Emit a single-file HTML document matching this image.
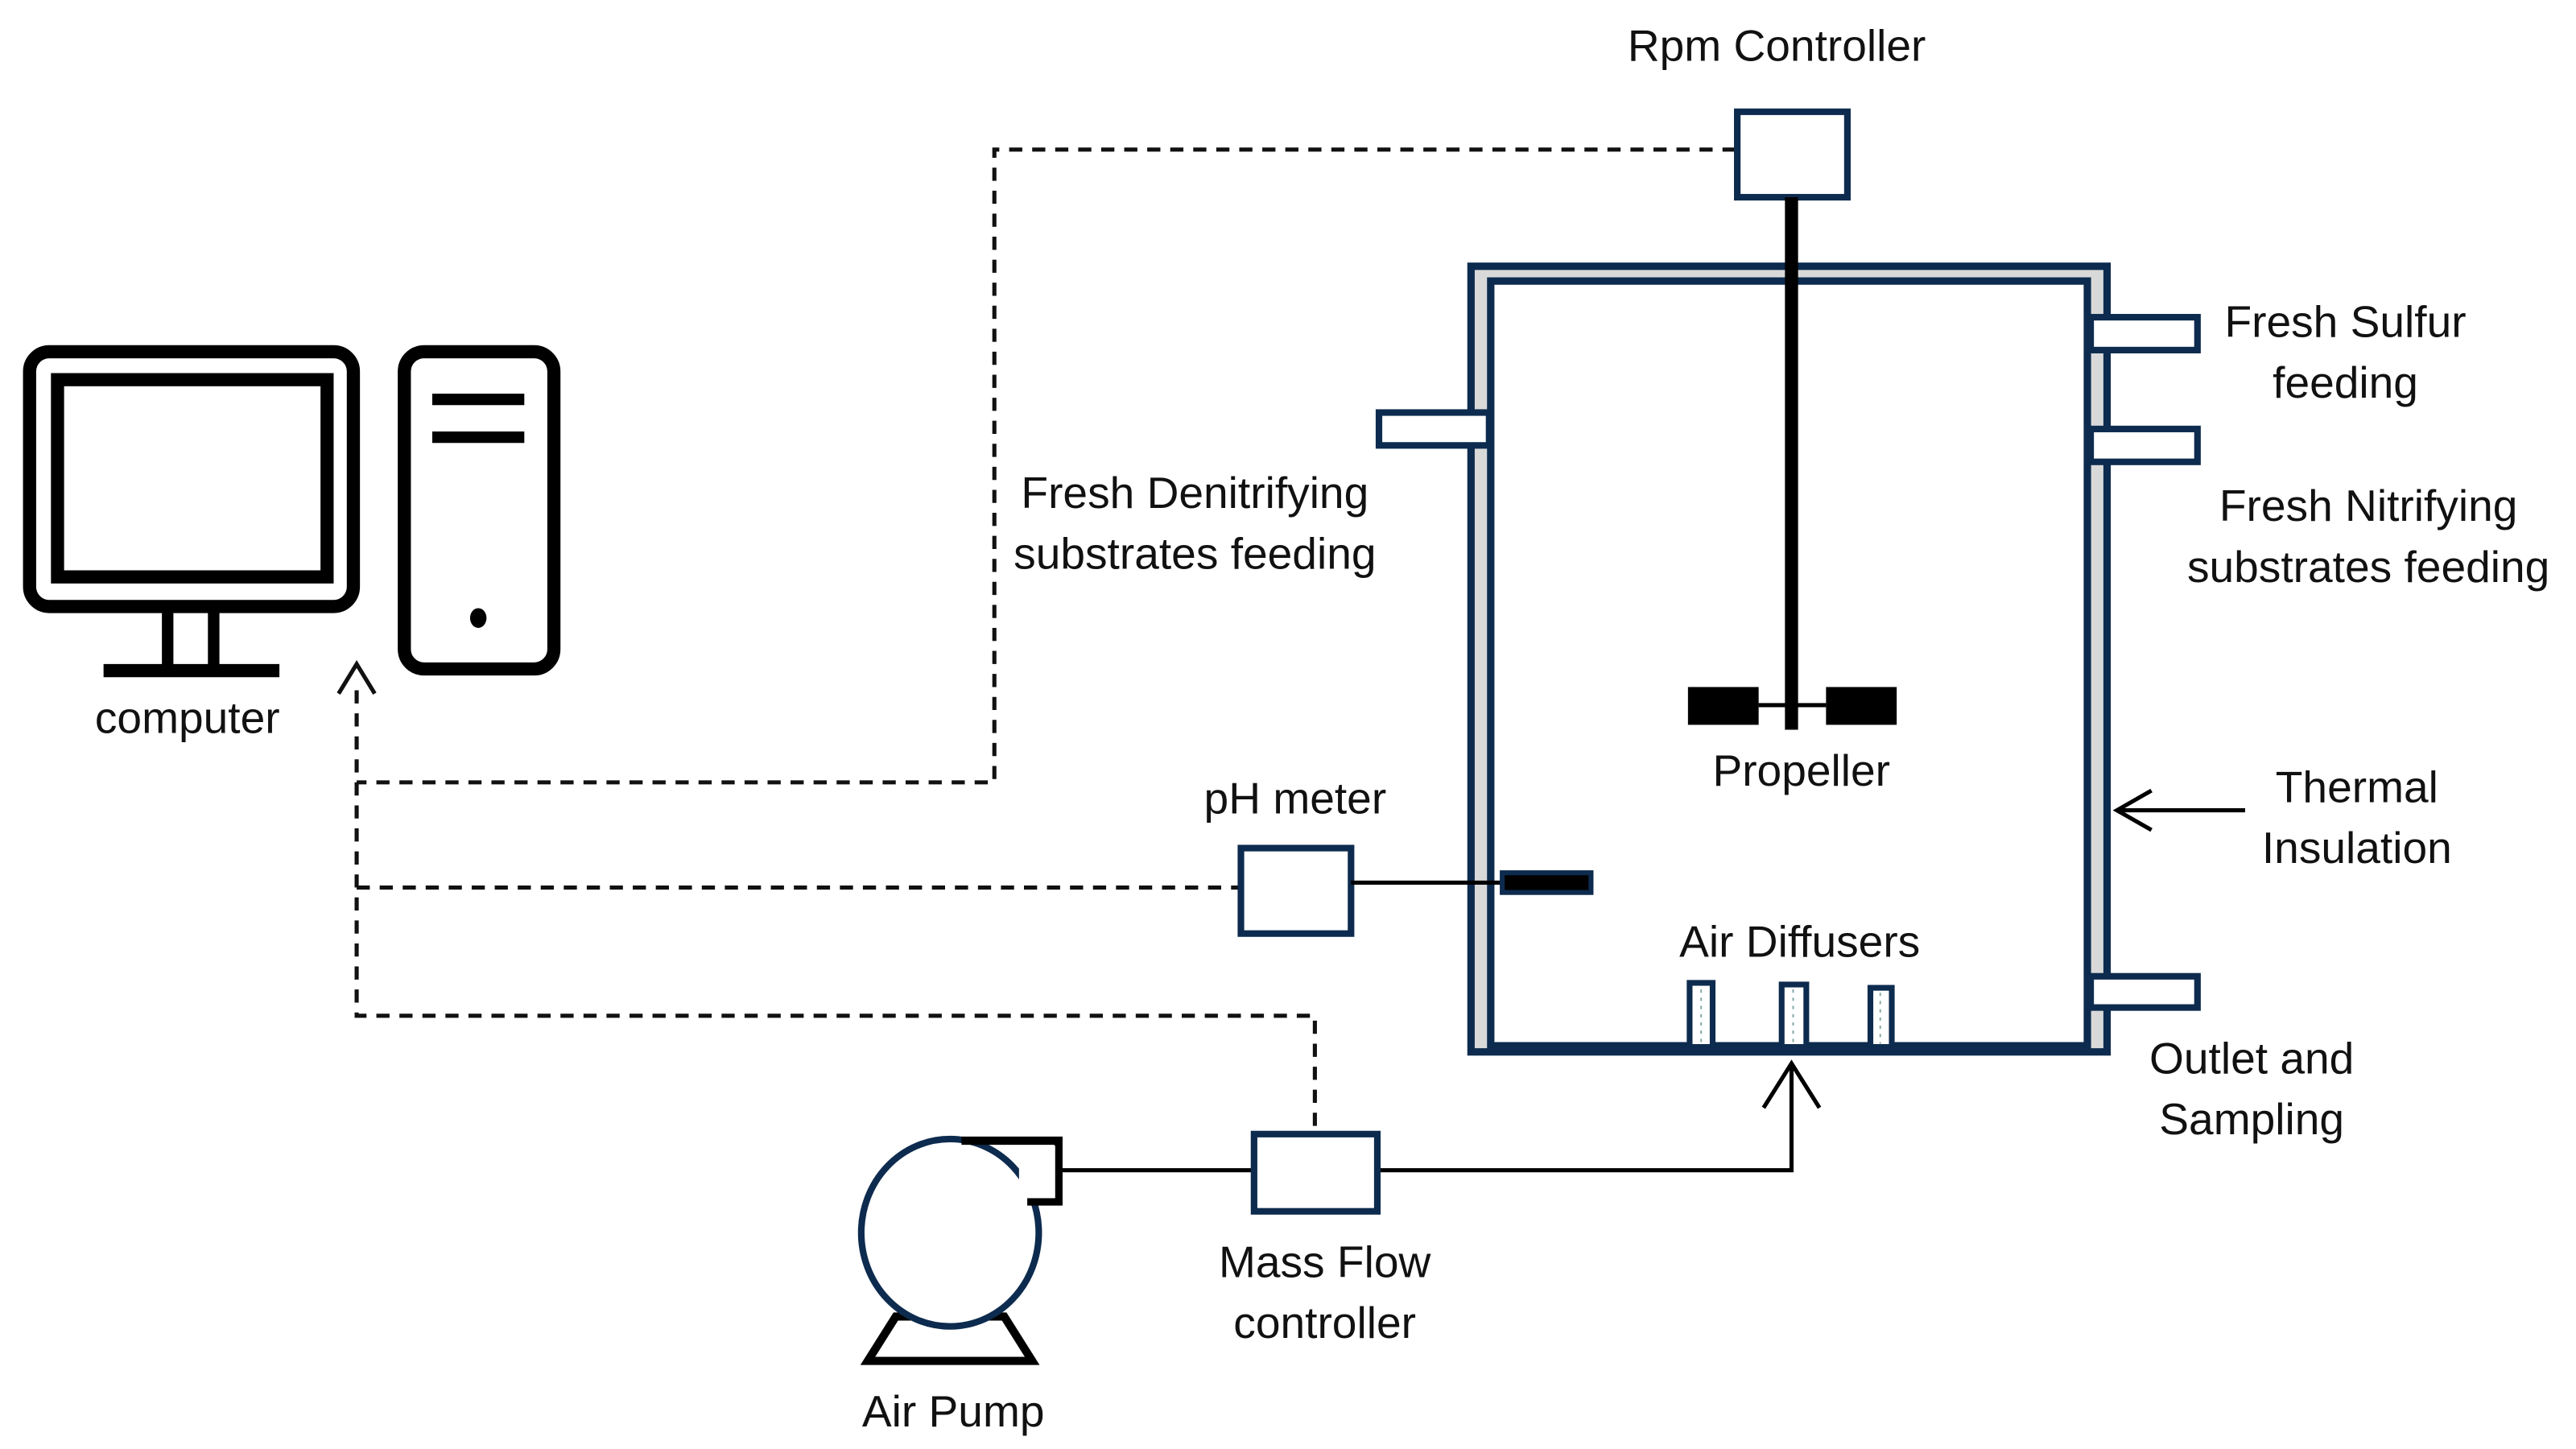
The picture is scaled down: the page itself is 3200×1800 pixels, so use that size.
<!DOCTYPE html>
<html><head><meta charset="utf-8"><style>
html,body{margin:0;padding:0;background:#fff;}
svg{display:block;}
text{font-family:"Liberation Sans",Arial,sans-serif;font-size:27px;fill:#111;text-anchor:middle;}
</style></head><body>
<svg width="3200" height="1800" viewBox="0 0 1567.3 881.6" preserveAspectRatio="none" xmlns="http://www.w3.org/2000/svg">
<rect width="1567.3" height="881.6" fill="#fff"/>
<!-- dashed lines -->
<g stroke="#111" stroke-width="2.5" stroke-dasharray="8,6" fill="none">
<polyline points="1056,91 605,91 605,476 217,476"/>
<polyline points="217,420 217,618 800,618 800,689"/>
<line x1="217" y1="540" x2="754" y2="540"/>
</g>
<polyline points="206,422 217,404 228,422" fill="none" stroke="#111" stroke-width="2.5"/>
<!-- computer -->
<rect x="18" y="214" width="197" height="155" rx="12" fill="none" stroke="#000" stroke-width="8"/>
<rect x="35" y="231" width="164" height="120" fill="none" stroke="#000" stroke-width="8"/>
<line x1="102" y1="369" x2="102" y2="405" stroke="#000" stroke-width="7"/>
<line x1="130" y1="369" x2="130" y2="405" stroke="#000" stroke-width="7"/>
<line x1="63" y1="408" x2="170" y2="408" stroke="#000" stroke-width="8"/>
<rect x="246" y="214" width="91" height="193" rx="12" fill="none" stroke="#000" stroke-width="8"/>
<line x1="263" y1="243" x2="319" y2="243" stroke="#000" stroke-width="7"/>
<line x1="263" y1="266" x2="319" y2="266" stroke="#000" stroke-width="7"/>
<ellipse cx="291" cy="376" rx="5" ry="6" fill="#000"/>
<text x="114" y="446">computer</text>
<!-- vessel -->
<rect x="895" y="162" width="387" height="478" fill="#d9d9d9" stroke="#0d2b4e" stroke-width="4.5"/>
<rect x="907" y="171" width="363" height="466" fill="#fff" stroke="#0d2b4e" stroke-width="4.5"/>
<line x1="905" y1="637" x2="1272" y2="637" stroke="#0d2b4e" stroke-width="6"/>
<!-- ports -->
<g fill="#fff" stroke="#0d2b4e" stroke-width="4">
<rect x="839" y="251" width="67" height="20"/>
<rect x="1272" y="193" width="65" height="20"/>
<rect x="1272" y="261" width="65" height="20"/>
<rect x="1272" y="594" width="65" height="19"/>
</g>
<!-- rpm -->
<rect x="1057" y="68" width="67" height="52" fill="#fff" stroke="#0d2b4e" stroke-width="4"/>
<line x1="1090" y1="120" x2="1090" y2="444" stroke="#000" stroke-width="8"/>
<rect x="1027" y="418" width="43" height="23" fill="#000"/>
<rect x="1111" y="418" width="43" height="23" fill="#000"/>
<line x1="1070" y1="429" x2="1111" y2="429" stroke="#000" stroke-width="2.5"/>
<text x="1081" y="37">Rpm Controller</text>
<text x="1096" y="478">Propeller</text>
<!-- pH -->
<rect x="755" y="516" width="67" height="52" fill="#fff" stroke="#0d2b4e" stroke-width="4"/>
<line x1="822" y1="537" x2="913" y2="537" stroke="#000" stroke-width="2.5"/>
<rect x="914" y="531" width="54" height="12" fill="#000" stroke="#0d2b4e" stroke-width="3"/>
<text x="788" y="495">pH meter</text>
<!-- diffusers -->
<g fill="#fff" stroke="#0d2b4e" stroke-width="3.5">
<rect x="1028" y="598" width="14" height="39"/>
<rect x="1084" y="599" width="15" height="38"/>
<rect x="1138" y="601" width="13" height="36"/>
</g>
<g stroke="#8aa" stroke-width="1" stroke-dasharray="2,3">
<line x1="1035" y1="602" x2="1035" y2="635"/>
<line x1="1091" y1="602" x2="1091" y2="635"/>
<line x1="1144" y1="604" x2="1144" y2="635"/>
</g>
<text x="1095" y="582">Air Diffusers</text>
<!-- air line -->
<polyline points="645,712 762,712" stroke="#000" stroke-width="2.5" fill="none"/>
<polyline points="839,712 1090,712 1090,648" stroke="#000" stroke-width="2.5" fill="none"/>
<polyline points="1073,674 1090,647 1107,674" stroke="#000" stroke-width="2.5" fill="none"/>
<rect x="763" y="690" width="75" height="47" fill="#fff" stroke="#0d2b4e" stroke-width="4"/>
<text x="806" y="777">Mass Flow</text>
<text x="806" y="814">controller</text>
<!-- pump -->
<polygon points="545,801 528,828 628,828 611,801" fill="none" stroke="#000" stroke-width="5"/>
<ellipse cx="578" cy="750" rx="54" ry="57" fill="#fff" stroke="#0d2b4e" stroke-width="4"/>
<polyline points="585,694 644,694 644,731 625,731" fill="none" stroke="#000" stroke-width="5"/>
<rect x="620" y="697" width="22" height="32" fill="#fff"/>
<text x="580" y="868">Air Pump</text>
<!-- right labels -->
<text x="1427" y="205">Fresh Sulfur</text>
<text x="1427" y="242">feeding</text>
<text x="1441" y="317">Fresh Nitrifying</text>
<text x="1441" y="354">substrates feeding</text>
<text x="1434" y="488">Thermal</text>
<text x="1434" y="525">Insulation</text>
<line x1="1366" y1="493" x2="1289" y2="493" stroke="#000" stroke-width="2.5"/>
<polyline points="1309,481 1288,493 1309,505" fill="none" stroke="#000" stroke-width="2.5"/>
<text x="1370" y="653">Outlet and</text>
<text x="1370" y="690">Sampling</text>
<text x="727" y="309">Fresh Denitrifying</text>
<text x="727" y="346">substrates feeding</text>
</svg>
</body></html>
